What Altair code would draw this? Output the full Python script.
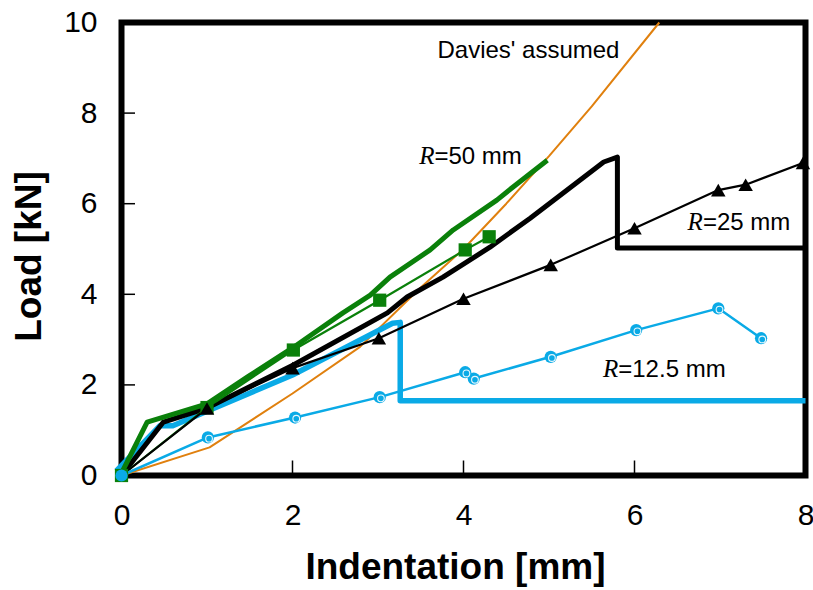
import altair as alt
import pandas as pd

# ---- data (x: indentation mm, y: load kN) ----
davies_x = [0, 1.03, 2.0, 2.79, 3.5, 4.0, 4.5, 5.0, 5.5, 6.29]
davies_y = [0, 0.62, 1.81, 2.84, 4.15, 5.0, 6.0, 7.05, 8.15, 10.0]

r50_test_x = [0, 0.30, 1.0, 1.47, 2.05, 2.59, 2.91, 3.14, 3.61, 3.88, 4.39, 4.58, 4.98]
r50_test_y = [0.05, 1.18, 1.58, 2.17, 2.88, 3.59, 3.98, 4.38, 4.98, 5.42, 6.08, 6.37, 6.96]

r50_fe_x = [0, 1.0, 2.01, 3.02, 4.02, 4.30]
r50_fe_y = [0, 1.50, 2.77, 3.87, 4.98, 5.27]

r25_test_x = [0, 0.49, 1.0, 2.01, 3.11, 3.34, 3.76, 4.31, 4.78, 5.64, 5.80, 5.80, 8.0]
r25_test_y = [0, 1.18, 1.49, 2.44, 3.59, 3.94, 4.38, 5.04, 5.68, 6.92, 7.03, 5.02, 5.02]

r25_fe_x = [0, 1.0, 2.0, 3.01, 4.0, 5.02, 6.0, 6.98, 7.30, 7.97]
r25_fe_y = [0, 1.48, 2.37, 3.03, 3.90, 4.65, 5.46, 6.30, 6.42, 6.90]

r12_test_x = [-0.06, 0.45, 0.6, 1.0, 2.0, 3.17, 3.26, 3.26, 8.0]
r12_test_y = [0.10, 1.10, 1.10, 1.42, 2.22, 3.36, 3.38, 1.65, 1.65]

r12_fe_x = [0, 1.01, 2.03, 3.02, 4.02, 4.12, 5.02, 6.02, 6.98, 7.48]
r12_fe_y = [0, 0.84, 1.28, 1.73, 2.28, 2.14, 2.62, 3.21, 3.69, 3.03]

x_ticks = [0, 2, 4, 6, 8]
y_ticks = [0, 2, 4, 6, 8, 10]

GREEN = "#0a800a"
BLUE = "#0aaae6"
ORANGE = "#e0800e"
BLACK = "#000000"
FONT = "Liberation Sans"


def frame(xs, ys):
    return pd.DataFrame({"x": xs, "y": ys, "order": list(range(len(xs)))})


xscale = alt.Scale(domain=[0, 8], nice=False, zero=False)
yscale = alt.Scale(domain=[0, 10], nice=False, zero=False)

xaxis = alt.Axis(
    values=x_ticks, title="Indentation [mm]", domain=False, ticks=False, tickSize=0,
    grid=False, labelFontSize=30, labelPadding=25, labelFont=FONT, labelColor="black",
    labelFlush=False, labelOverlap=False, labelBound=False,
    titleFont=FONT, titleFontSize=37, titleFontWeight="bold", titleColor="black",
    titleX=333.5, titleY=102.5, titleBaseline="alphabetic", titleAlign="center",
)
yaxis = alt.Axis(
    values=y_ticks, title="Load [kN]", domain=False, ticks=False, tickSize=0,
    grid=False, labelFontSize=30, labelPadding=24.5, labelFont=FONT, labelColor="black",
    labelFlush=False, labelOverlap=False, labelBound=False,
    titleFont=FONT, titleFontSize=37, titleFontWeight="bold", titleColor="black",
    titleX=-81.5, titleY=233.5, titleAngle=-90, titleBaseline="alphabetic", titleAlign="center",
)


def enc(chart):
    return chart.encode(
        x=alt.X("x:Q", scale=xscale, axis=xaxis),
        y=alt.Y("y:Q", scale=yscale, axis=yaxis),
        order="order:Q",
    )


def line(xs, ys, color, width):
    return enc(alt.Chart(frame(xs, ys)).mark_line(color=color, strokeWidth=width, strokeJoin="round"))


def points(xs, ys, color, shape, size):
    return enc(alt.Chart(frame(xs, ys)).mark_point(
        shape=shape, size=size, filled=True, color=color, opacity=1))


def highlights(xs, ys):
    return enc(alt.Chart(frame(xs, ys)).mark_point(
        shape="circle", size=45, filled=False, stroke="white", strokeWidth=1.1,
        opacity=0.9, xOffset=1.2, yOffset=1.2))


layers = [
    line(davies_x, davies_y, ORANGE, 2),
    line(r12_test_x, r12_test_y, BLUE, 5.5),
    line(r25_test_x, r25_test_y, BLACK, 5),
    line(r50_test_x, r50_test_y, GREEN, 5),
    line(r50_fe_x, r50_fe_y, GREEN, 2.2),
    line(r25_fe_x, r25_fe_y, BLACK, 2.2),
    line(r12_fe_x, r12_fe_y, BLUE, 2.5),
    points(r50_fe_x[1:], r50_fe_y[1:], GREEN, "square", 175),
    points(r25_fe_x[1:], r25_fe_y[1:], BLACK, "triangle-up", 210),
    points(r12_fe_x[1:], r12_fe_y[1:], BLUE, "circle", 150),
    highlights(r12_fe_x[1:], r12_fe_y[1:]),
    points(r50_fe_x[:1], r50_fe_y[:1], GREEN, "square", 175),
    points(r12_fe_x[:1], r12_fe_y[:1], BLUE, "circle", 150),
]

# inward tick marks
xt = pd.DataFrame({"x": [2, 4, 6]})
yt = pd.DataFrame({"y": [2, 4, 6, 8]})
layers.append(alt.Chart(xt).mark_rule(color="black", strokeWidth=1.5).encode(
    x=alt.X("x:Q", scale=xscale, axis=xaxis), y=alt.value(453), y2=alt.value(438)))
layers.append(alt.Chart(yt).mark_rule(color="black", strokeWidth=1.5).encode(
    y=alt.Y("y:Q", scale=yscale, axis=yaxis), x=alt.value(0), x2=alt.value(13.5)))

# annotations
ann_sans = pd.DataFrame({
    "x": [4.76, 3.66, 6.80, 5.81],
    "y": [9.22, 6.876, 5.42, 2.17],
    "t": ["Davies' assumed", "=50 mm", "=25 mm", "=12.5 mm"],
})
layers.append(alt.Chart(ann_sans.iloc[:1]).mark_text(
    font=FONT, fontSize=24, color="black", align="center", baseline="alphabetic").encode(
    x=alt.X("x:Q", scale=xscale, axis=xaxis), y=alt.Y("y:Q", scale=yscale, axis=yaxis), text="t:N"))
layers.append(alt.Chart(ann_sans.iloc[1:]).mark_text(
    font=FONT, fontSize=24, color="black", align="left", baseline="alphabetic").encode(
    x=alt.X("x:Q", scale=xscale, axis=xaxis), y=alt.Y("y:Q", scale=yscale, axis=yaxis), text="t:N"))
ann_r = pd.DataFrame({"x": [3.66, 6.80, 5.81], "y": [6.876, 5.42, 2.17], "t": ["R", "R", "R"]})
layers.append(alt.Chart(ann_r).mark_text(
    font="Liberation Serif", fontStyle="italic", fontSize=25, color="black",
    align="right", baseline="alphabetic").encode(
    x=alt.X("x:Q", scale=xscale, axis=xaxis), y=alt.Y("y:Q", scale=yscale, axis=yaxis), text="t:N"))

chart = alt.layer(*layers).properties(
    width=684, height=453,
    autosize=alt.AutoSizeParams(type="none"),
    padding={"left": 121.5, "top": 22.5, "right": 7.5, "bottom": 114.5},
    background="white",
).configure_view(stroke="black", strokeWidth=6).configure_axis(grid=False)

chart.save("out.html", embed_options={"renderer": "svg", "actions": False})
